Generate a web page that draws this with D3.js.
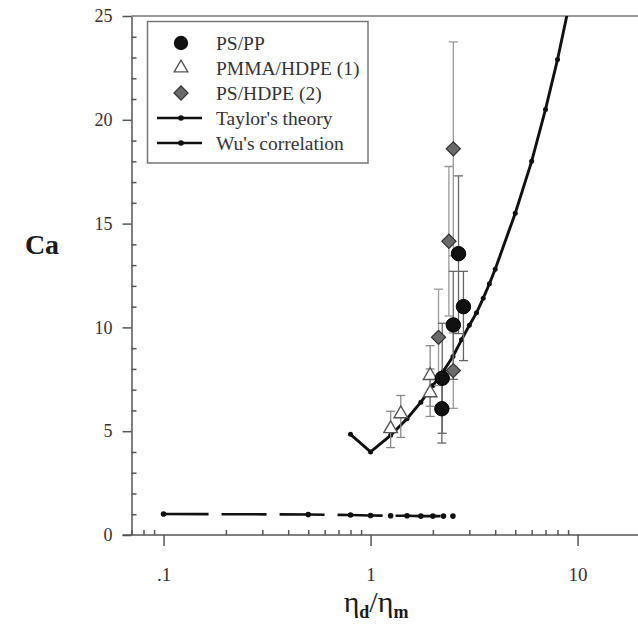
<!DOCTYPE html>
<html><head><meta charset="utf-8">
<script src="https://cdn.jsdelivr.net/npm/d3@7"></script>
<style>body{margin:0;background:#fff}</style>
</head><body>
<svg id="chart" width="638" height="630"></svg>
<script>
// ---- data ----
const psppP  = [2.66, 2.81, 2.51, 2.22, 2.21];
const psppCa = [13.55, 11.0, 10.12, 7.55, 6.08];
const psppLo = [9.7, 8.4, 7.5, 4.9, 4.43];
const psppHi = [17.3, 12.7, 12.7, 10.2, 7.73];

const pmmaP  = [1.94, 1.94, 1.40, 1.25];
const pmmaCa = [7.68, 6.85, 5.84, 5.12];
const pmmaLo = [6.2, 5.71, 4.7, 4.21];
const pmmaHi = [9.12, 8.0, 6.72, 5.96];

const pshdpeP  = [2.51, 2.39, 2.13, 2.51];
const pshdpeCa = [18.6, 14.15, 9.52, 7.92];
const pshdpeLo = [13.45, 10.55, 7.2, 6.1];
const pshdpeHi = [23.75, 17.75, 11.84, 9.73];

const taylorP  = [0.1, 0.5, 0.8, 1, 1.25, 1.5, 1.75, 2, 2.25, 2.5];
const taylorCa = [1.01, 0.99, 0.96, 0.94, 0.93, 0.93, 0.91, 0.91, 0.91, 0.91];

const wuP  = [0.8, 1, 1.25, 1.5, 1.75, 2, 2.25, 2.5, 2.75, 3, 3.25, 3.5, 3.75, 4, 5, 6, 7, 8, 9];
const wuCa = [4.85, 4.0, 4.8, 5.6, 6.4, 7.2, 7.9, 8.6, 9.4, 10.1, 10.7, 11.4, 12.1, 12.8, 15.5, 18.0, 20.5, 22.9, 25.3];

const xTicks = [0.1, 1, 10];
const xTickLabels = [".1", "1", "10"];
const xMinorTicks = [0.07, 0.08, 0.09, 0.2, 0.3, 0.4, 0.5, 0.6, 0.7, 0.8, 0.9, 2, 3, 4, 5, 6, 7, 8, 9];
const yTicks = [0, 5, 10, 15, 20, 25];
const yMinorTicks = d3.range(1, 25).filter(v => v % 5 !== 0);
const legendLabels = ["PS/PP", "PMMA/HDPE (1)", "PS/HDPE (2)", "Taylor's theory", "Wu's correlation"];

// ---- layout ----
const svg = d3.select("#chart");
const L = 131.5, T = 16, B = 535;
const x = d3.scaleLog().domain([0.07, 21]).range([L, L + 207 * Math.log10(21 / 0.07)]);
const y = d3.scaleLinear().domain([0, 25]).range([B, T]);
const R = x.range()[1];
const axisColor = "#555", textColor = "#333";
const serif = "'Liberation Serif', 'Times New Roman', serif";

svg.append("defs").append("clipPath").attr("id", "clip")
  .append("rect").attr("x", L).attr("y", T).attr("width", R - L).attr("height", B - T);

// frame top
svg.append("line").attr("x1", L).attr("x2", R).attr("y1", T).attr("y2", T)
  .attr("stroke", "#777").attr("stroke-width", 1.5);

// y axis
const yAx = svg.append("g").attr("transform", `translate(${L},0)`)
  .call(d3.axisLeft(y).tickValues(yTicks).tickSize(9).tickSizeOuter(0).tickPadding(10).tickFormat(d3.format("d")));
const yMin = svg.append("g").attr("transform", `translate(${L},0)`)
  .call(d3.axisLeft(y).tickValues(yMinorTicks).tickSize(-5).tickSizeOuter(0).tickFormat(""));
yMin.select(".domain").remove();

// x axis
const xAx = svg.append("g").attr("transform", `translate(0,${B})`)
  .call(d3.axisBottom(x).tickValues(xTicks).tickSize(11).tickSizeOuter(0).tickPadding(22)
    .tickFormat((d, i) => xTickLabels[i]));
const xMin = svg.append("g").attr("transform", `translate(0,${B})`)
  .call(d3.axisBottom(x).tickValues(xMinorTicks).tickSize(-5).tickSizeOuter(0).tickFormat(""));
xMin.select(".domain").remove();

[yAx, yMin, xAx, xMin].forEach(g => {
  g.selectAll("path,line").attr("stroke", axisColor).attr("stroke-width", 1.5);
  g.selectAll("text").attr("fill", textColor).attr("font-family", serif);
});
yAx.selectAll("text").attr("font-size", 18);
xAx.selectAll("text").attr("font-size", 19);
xAx.select(".domain").attr("d", `M${L - 9},0H${R}`);

// axis titles
svg.append("text").attr("x", 42).attr("y", 254).attr("text-anchor", "middle")
  .attr("font-family", serif).attr("font-weight", "bold").attr("font-size", 28)
  .attr("fill", "#1a1a1a").text("Ca");
const xt = svg.append("text").attr("x", 376).attr("y", 612).attr("text-anchor", "middle")
  .attr("font-family", serif).attr("font-size", 30).attr("fill", "#1a1a1a");
xt.append("tspan").text("η");
xt.append("tspan").attr("font-size", 18).attr("font-weight", "bold").attr("dy", 6).text("d");
xt.append("tspan").attr("dy", -6).text("/η");
xt.append("tspan").attr("font-size", 18).attr("font-weight", "bold").attr("dy", 6).text("m");

const plot = svg.append("g").attr("clip-path", "url(#clip)");

// Taylor's theory (dashed)
const taylor = taylorP.map((p, i) => [p, taylorCa[i]]);
plot.append("path").datum(taylor)
  .attr("d", d3.line().x(d => x(d[0])).y(d => y(d[1])))
  .attr("fill", "none").attr("stroke", "#111").attr("stroke-width", 2.6)
  .attr("stroke-dasharray", "45,13");
plot.selectAll(".tdot").data(taylor).join("circle")
  .attr("cx", d => x(d[0])).attr("cy", d => y(d[1])).attr("r", 2.8).attr("fill", "#111");

// Wu's correlation
const wu = wuP.map((p, i) => [p, wuCa[i]]);
plot.append("path").datum(wu)
  .attr("d", d3.line().x(d => x(d[0])).y(d => y(d[1])))
  .attr("fill", "none").attr("stroke", "#111").attr("stroke-width", 2.9);
plot.selectAll(".wdot").data(wu).join("circle")
  .attr("cx", d => x(d[0])).attr("cy", d => y(d[1])).attr("r", 2.5).attr("fill", "#111");

// error bars
function errbars(P, C, Lo, Hi, color) {
  const d = P.map((p, i) => ({p, lo: Lo[i], hi: Hi[i]}));
  const g = plot.append("g").attr("stroke", color).attr("stroke-width", 1.3);
  g.selectAll(".v").data(d).join("line")
    .attr("x1", e => x(e.p)).attr("x2", e => x(e.p)).attr("y1", e => y(e.lo)).attr("y2", e => y(e.hi));
  g.selectAll(".ct").data(d).join("line")
    .attr("x1", e => x(e.p) - 4.5).attr("x2", e => x(e.p) + 4.5).attr("y1", e => y(e.hi)).attr("y2", e => y(e.hi));
  g.selectAll(".cb").data(d).join("line")
    .attr("x1", e => x(e.p) - 4.5).attr("x2", e => x(e.p) + 4.5).attr("y1", e => y(e.lo)).attr("y2", e => y(e.lo));
}
errbars(pmmaP, pmmaCa, pmmaLo, pmmaHi, "#888");
errbars(pshdpeP, pshdpeCa, pshdpeLo, pshdpeHi, "#999");
errbars(psppP, psppCa, psppLo, psppHi, "#666");

// markers
const sym = {
  tri: d3.symbol().type(d3.symbolTriangle).size(80),
  dia: d3.symbol().type(d3.symbolSquare).size(100)
};
plot.selectAll(".tri").data(pmmaP.map((p, i) => [p, pmmaCa[i]])).join("path")
  .attr("d", sym.tri).attr("transform", d => `translate(${x(d[0])},${y(d[1])})`)
  .attr("fill", "#fff").attr("stroke", "#555").attr("stroke-width", 1.4);
plot.selectAll(".dia").data(pshdpeP.map((p, i) => [p, pshdpeCa[i]])).join("path")
  .attr("d", sym.dia).attr("transform", d => `translate(${x(d[0])},${y(d[1])}) rotate(45)`)
  .attr("fill", "#6b6b6b").attr("stroke", "#333").attr("stroke-width", 1.2);
plot.selectAll(".cir").data(psppP.map((p, i) => [p, psppCa[i]])).join("circle")
  .attr("cx", d => x(d[0])).attr("cy", d => y(d[1])).attr("r", 7.2)
  .attr("fill", "#111").attr("stroke", "#000");

// legend
const lg = svg.append("g");
lg.append("rect").attr("x", 147.5).attr("y", 21.5).attr("width", 220.5).attr("height", 141.5)
  .attr("fill", "#fff").attr("stroke", "#777").attr("stroke-width", 1.5);
const rowY = [43, 68, 93, 118, 143];
const mx = 181;
lg.append("circle").attr("cx", mx).attr("cy", rowY[0]).attr("r", 7.2).attr("fill", "#111");
lg.append("path").attr("d", sym.tri).attr("transform", `translate(${mx},${rowY[1]})`)
  .attr("fill", "#fff").attr("stroke", "#555").attr("stroke-width", 1.4);
lg.append("path").attr("d", sym.dia).attr("transform", `translate(${mx},${rowY[2]}) rotate(45)`)
  .attr("fill", "#6b6b6b").attr("stroke", "#333").attr("stroke-width", 1.2);
[3, 4].forEach(k => {
  lg.append("line").attr("x1", 157).attr("x2", 202).attr("y1", rowY[k]).attr("y2", rowY[k])
    .attr("stroke", "#111").attr("stroke-width", 2.6);
  lg.append("circle").attr("cx", mx).attr("cy", rowY[k]).attr("r", 2.8).attr("fill", "#111");
});
lg.selectAll(".lt").data(legendLabels).join("text")
  .attr("x", 216).attr("y", (d, i) => rowY[i] + 6.5)
  .attr("font-family", serif).attr("font-size", 19.5).attr("fill", textColor)
  .text(d => d);
</script>
</body></html>
